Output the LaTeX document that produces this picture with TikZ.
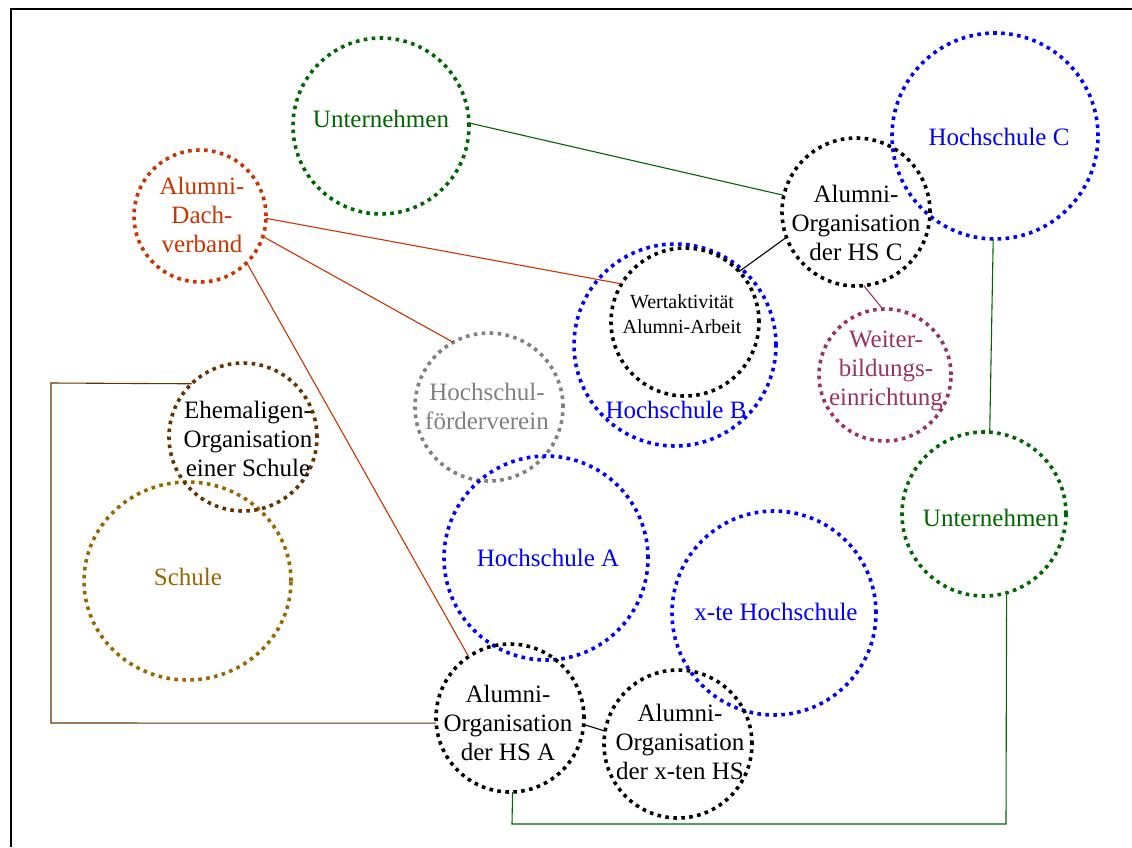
\documentclass[tikz,border=0pt]{standalone}
\usepackage{fontspec}
\setmainfont{Liberation Serif}
\usetikzlibrary{shapes.geometric}
\definecolor{ugreen}{RGB}{0,102,0}
\definecolor{dachred}{RGB}{204,51,0}
\definecolor{wbpurple}{RGB}{153,51,102}
\definecolor{fvgray}{RGB}{128,128,128}
\definecolor{ehembrown}{RGB}{102,51,0}
\definecolor{schulbrown}{RGB}{153,102,0}
\definecolor{hsblue}{RGB}{0,0,255}
\begin{document}
\begin{tikzpicture}[x=1pt,y=-1pt,
  dotline/.style={line width=3.6pt, dash pattern=on 3.6pt off 4.4pt},
  ring/.style={circle, dotline, inner sep=0pt, outer sep=0pt, minimum size=2*#1},
  lbl/.style={align=center, inner sep=0pt, font=\fontsize{25}{29}\selectfont},
  small/.style={align=center, inner sep=0pt, font=\fontsize{20}{25}\selectfont},
  conn/.style={line width=1.1pt}]
\useasboundingbox (0,0) rectangle (1132,847);

% page frame (top and left edges)
\coordinate (fbl) at (11,847);
\coordinate (ftl) at (11,9);
\coordinate (ftr) at (1132,9);
\draw[line width=2pt] (fbl) -- (ftl) -- (ftr);

% circles
\node[ring=88, draw=ugreen] (unt1) at (381,126) {};
\node[ring=66, draw=dachred] (dach) at (200,216) {};
\node[ring=103, draw=hsblue] (hsc) at (995,136) {};
\node[ring=101, draw=hsblue] (hsb) at (675,345) {};
\node[ring=74, draw=black] (wert) at (685,322) {};
\node[ring=74, draw=black] (aohsc) at (856,212) {};
\node[ring=66, draw=wbpurple] (weiter) at (885,375) {};
\node[ring=74, draw=fvgray] (foerder) at (489,407) {};
\node[ellipse, dotline, draw=schulbrown, inner sep=0pt, outer sep=0pt,
      minimum width=207, minimum height=198] (schule) at (187.5,581) {};
\node[ring=74, draw=ehembrown] (ehem) at (243,437) {};
\node[ring=102, draw=hsblue] (hsa) at (546,558) {};
\node[ring=102, draw=hsblue] (xte) at (774,613) {};
\node[ring=82, draw=ugreen] (unt2) at (984,514) {};
\node[ring=74, draw=black] (aohsa) at (510,718) {};
\node[ring=74, draw=black] (aoxte) at (678,744) {};

% labels
\node[lbl, text=ugreen] (t-unt1) at (381,119) {Unternehmen};
\node[lbl, text=ugreen] (t-unt2) at (991,518) {Unternehmen};
\node[lbl, text=hsblue] (t-hsc) at (999,137) {Hochschule C};
\node[lbl, text=hsblue] (t-hsb) at (676,410) {Hochschule B};
\node[lbl, text=hsblue] (t-hsa) at (548,558) {Hochschule A};
\node[lbl, text=hsblue] (t-xte) at (776,612) {x-te Hochschule};
\node[lbl, text=schulbrown] (t-schule) at (188,577) {Schule};
\node[lbl, text=dachred] (t-dach) at (202,215) {Alumni-\\Dach-\\verband};
\node[lbl] (t-aohsc) at (856,223) {Alumni-\\Organisation\\der HS C};
\node[small] (t-wert) at (682,314) {Wertaktivität\\Alumni-Arbeit};
\node[lbl, text=wbpurple] (t-weiter) at (886,371) {Weiter-\\bildungs-\\einrichtung};
\node[lbl, text=fvgray] (t-foerder) at (487,406) {Hochschul-\\förderverein};
\node[lbl] (t-ehem) at (248,439) {Ehemaligen-\\Organisation\\einer Schule};
\node[lbl] (t-aohsa) at (508,723) {Alumni-\\Organisation\\der HS A};
\node[lbl] (t-aoxte) at (680,742) {Alumni-\\Organisation\\der x-ten HS};

% connectors
\coordinate (bl1) at (51,383);
\coordinate (bl2) at (51,723);
\coordinate (gbr) at (1006,824);
\coordinate (gbl) at (512,824);

\draw[conn, ugreen] (unt1.2.6) -- (aohsc.167);
\draw[conn, dachred] (dach.-2.6) -- (wert.149);
\draw[conn, dachred] (dach.-18) -- (foerder.119);
\draw[conn, dachred] (dach.-45) -- (aohsa.124);
\draw[conn, black] (wert.43) -- (aohsc.200);
\draw[conn, wbpurple] (aohsc.-84.5) -- (weiter.92);
\draw[conn, ugreen] (hsc.-91.7) -- (unt2.86.5);
\draw[conn, ugreen] (unt2.-74) -- (gbr) -- (gbl) -- (aohsa.-88.5);
\draw[conn, ehembrown] (ehem.134) -- (bl1) -- (bl2) -- (aohsa.184);
\draw[conn, black] (aohsa.-5.3) -- (aoxte.170);
\end{tikzpicture}
\end{document}
